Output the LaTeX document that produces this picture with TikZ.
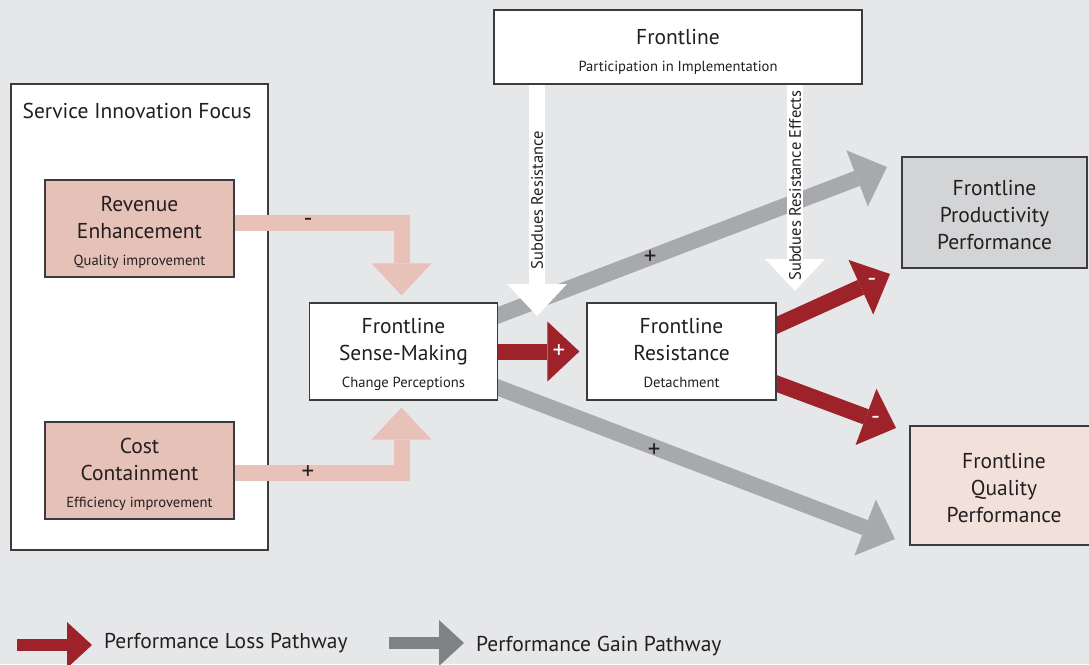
\documentclass[tikz,border=0pt]{standalone}
\usepackage{fontspec}
\setmainfont{PT Sans}
\usetikzlibrary{arrows.meta}

\definecolor{bggray}{HTML}{E6E7E8}
\definecolor{boxline}{HTML}{3C3C3E}
\definecolor{txt}{HTML}{231F20}
\definecolor{pinkfill}{HTML}{E6C1B7}
\definecolor{pinkflow}{HTML}{E8C2B8}
\definecolor{prodfill}{HTML}{D3D4D5}
\definecolor{qualfill}{HTML}{F2E1DA}
\definecolor{lossred}{HTML}{9E2229}
\definecolor{gaingray}{HTML}{A7A9AC}
\definecolor{leggray}{HTML}{808285}

\newcommand\bigtxt{\fontsize{21.5}{27}\selectfont}
\newcommand\subtxt{\fontsize{14.6}{18}\selectfont}
\newcommand\toprule[1]{\rule{0pt}{#1}}

\pgfdeclarelayer{back}
\pgfdeclarelayer{flow}
\pgfsetlayers{back,flow,main}

\begin{document}
\begin{tikzpicture}[x=1pt,y=-1pt,
	box/.style={draw=boxline,line width=1.2pt,align=center,text=txt,inner sep=0pt,font=\bigtxt},
	focusbox/.style={box,fill=pinkfill,minimum width=189pt,minimum height=97pt},
	stagebox/.style={box,fill=white,minimum width=188pt,minimum height=97pt},
	fat/.style={line width=16pt,-{Triangle[width=60pt,length=32pt,line width=0pt]}},
	pinkflow/.style={fat,draw=pinkflow},
	gain/.style={fat,draw=gaingray},
	loss/.style={fat,draw=lossred},
	subdue/.style={fat,draw=white},
	sign/.style={font=\fontsize{25}{25}\selectfont,text=txt,inner sep=0pt},
	whitesign/.style={sign,text=white},
	legarrow/.style={line width=12pt,-{Triangle[width=46pt,length=25pt,line width=0pt]}},
	legtext/.style={font=\bigtxt,text=txt,inner sep=0pt,anchor=west}
]
	\useasboundingbox (0,0) rectangle (1089,664);
	\begin{pgfonlayer}{back}
		\fill[bggray] (0,0) rectangle (1089,664);
		\node[box,fill=white,minimum width=257pt,minimum height=466pt] (focus) at (139.5,317) {};
	\end{pgfonlayer}
	\node[font=\bigtxt,text=txt] (focustitle) at (137,111) {Service Innovation Focus};

	%innovation focus
	\node[focusbox] (revenue) at (139.5,228.5) {\toprule{22pt}Revenue\\Enhancement\\[0pt]\subtxt Quality improvement};
	\node[focusbox] (cost) at (139.5,470.5) {\toprule{22pt}Cost\\Containment\\[0pt]\subtxt Efficiency improvement};

	%frontline stages
	\node[stagebox] (sense) at (403.5,351.5) {\toprule{22pt}Frontline\\Sense-Making\\[0pt]\subtxt Change Perceptions};
	\node[stagebox,minimum width=189pt] (resist) at (681.5,351.5) {\toprule{19pt}Frontline\\Resistance\\[0pt]\subtxt Detachment};
	\node[box,fill=white,minimum width=368pt,minimum height=74pt] (particip) at (678,47) {\toprule{25pt}Frontline\\[0pt]\subtxt Participation in Implementation};

	%outcomes
	\node[box,fill=prodfill,minimum width=185pt,minimum height=111pt] (prod) at (994.5,212.5) {\toprule{19.5pt}Frontline\\Productivity\\Performance};
	\node[box,fill=qualfill,minimum width=188pt,minimum height=119pt] (qual) at (1004,485.5) {\toprule{19.5pt}Frontline\\Quality\\Performance};

	%arrow ends
	\coordinate (gaintop) at (887,167);
	\coordinate (gainbot) at (895,539);
	\coordinate (losstop) at (890,274);
	\coordinate (lossbot) at (896,428);
	\coordinate (subleft) at (537,316);
	\coordinate (subright) at (795,291);

	\begin{pgfonlayer}{flow}
		%pink
		\draw[pinkflow,shorten >=7pt] ([yshift=6pt]revenue.east) -| ([xshift=-2pt]sense.north)
			node[sign,pos=.22] {-};
		\draw[pinkflow,shorten >=7pt] ([yshift=-2pt]cost.east) -| ([xshift=-2pt]sense.south)
			node[sign,pos=.22] {+};
		%gain
		\draw[gain] (sense.center) -- (gaintop) node[sign,pos=.51] {+};
		\draw[gain] (sense.center) -- (gainbot) node[sign,pos=.51,yshift=-3pt] {+};
		%loss
		\draw[loss,shorten >=7pt] (sense.east) -- (resist.west) node[whitesign,pos=.69] {+};
		\draw[loss,shorten <=-10pt] ([yshift=-23pt]resist.north east) -- (losstop) node[whitesign,pos=.84] {-};
		\draw[loss,shorten <=-10pt] ([yshift=17pt]resist.south east) -- (lossbot) node[whitesign,pos=.83] {-};
		%subdues
		\draw[subdue] (particip.south -| subleft) -- (subleft)
			node[pos=.5,rotate=90,font=\fontsize{16.5}{18}\selectfont,text=txt] {Subdues Resistance};
		\draw[subdue] (particip.south -| subright) -- (subright)
			node[pos=.49,rotate=90,font=\fontsize{16.5}{18}\selectfont,text=txt] {Subdues Resistance Effects};
	\end{pgfonlayer}

	%legend
	\node[legtext] (losslegend) at (104,643) {Performance Loss Pathway};
	\draw[legarrow,draw=lossred] ([xshift=-87pt,yshift=-2pt]losslegend.west) -- ([xshift=-12pt,yshift=-2pt]losslegend.west);
	\node[legtext] (gainlegend) at (476,646) {Performance Gain Pathway};
	\draw[legarrow,draw=leggray] ([xshift=-87pt,yshift=3pt]gainlegend.west) -- ([xshift=-12pt,yshift=3pt]gainlegend.west);
\end{tikzpicture}
\end{document}
